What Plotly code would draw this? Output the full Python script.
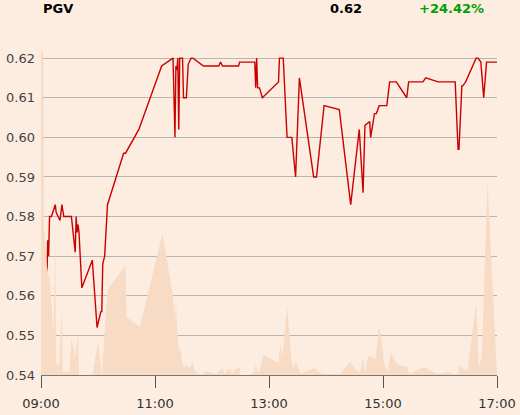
import plotly.graph_objects as go
import pandas as pd

day = "2024-01-02 "

price_times = ["09:00", "09:02", "09:03", "09:04", "09:06", "09:07", "09:08", "09:09", "09:11", "09:15",
               "09:16", "09:20", "09:22", "09:24", "09:32", "09:36", "09:37", "09:38", "09:39", "09:40",
               "09:43", "09:54", "09:59", "10:03", "10:04", "10:05", "10:07", "10:10", "10:27", "10:29",
               "10:43", "11:07", "11:19", "11:21", "11:22", "11:23", "11:24", "11:25", "11:26", "11:29",
               "11:30", "11:33", "11:35", "11:38", "11:40", "11:51", "12:07", "12:09", "12:11", "12:28",
               "12:29", "12:45", "12:46", "12:47", "12:48", "12:50", "12:53", "13:10", "13:11", "13:15",
               "13:19", "13:24", "13:28", "13:32", "13:47", "13:50", "13:58", "14:14", "14:26", "14:35",
               "14:39", "14:41", "14:46", "14:47", "14:51", "14:53", "14:56", "15:04", "15:07", "15:14",
               "15:25", "15:27", "15:42", "15:45", "15:58", "16:16", "16:19", "16:20", "16:23", "16:24",
               "16:27", "16:38", "16:40", "16:43", "16:46", "16:49", "17:00"]
price_values = [0.542, 0.570, 0.570, 0.560, 0.560, 0.574, 0.570, 0.580, 0.580, 0.583,
                0.581, 0.579, 0.583, 0.580, 0.580, 0.571, 0.580, 0.576, 0.578, 0.576,
                0.562, 0.569, 0.552, 0.556, 0.556, 0.568, 0.570, 0.583, 0.596, 0.596,
                0.602, 0.618, 0.620, 0.600, 0.618, 0.617, 0.620, 0.602, 0.620, 0.620,
                0.610, 0.610, 0.6185, 0.620, 0.620, 0.618, 0.618, 0.619, 0.618, 0.618,
                0.619, 0.619, 0.6125, 0.620, 0.6125, 0.6125, 0.610, 0.614, 0.620, 0.620,
                0.600, 0.600, 0.590, 0.615, 0.590, 0.590, 0.608, 0.607, 0.583, 0.602,
                0.586, 0.603, 0.604, 0.600, 0.606, 0.606, 0.608, 0.608, 0.614, 0.614,
                0.610, 0.614, 0.614, 0.615, 0.614, 0.614, 0.597, 0.597, 0.613, 0.613,
                0.614, 0.620, 0.620, 0.619, 0.610, 0.619, 0.619]

volume_times = ["09:00", "09:02", "09:03", "09:06", "09:10", "09:13", "09:15", "09:16", "09:19", "09:22",
                "09:23", "09:30", "09:32", "09:36", "09:39", "09:40", "09:54", "10:00", "10:04", "10:07",
                "10:10", "10:29", "10:30", "10:44", "11:08", "11:19", "11:21", "11:22", "11:24", "11:26",
                "11:27", "11:29", "11:32", "11:34", "11:36", "11:38", "11:40", "11:42", "11:46", "11:51",
                "11:52", "12:05", "12:11", "12:13", "12:16", "12:20", "12:21", "12:23", "12:29", "12:30",
                "12:40", "12:44", "12:46", "12:48", "12:50", "12:54", "13:10", "13:12", "13:14", "13:19",
                "13:24", "13:26", "13:28", "13:33", "13:48", "13:54", "14:01", "14:15", "14:25", "14:32",
                "14:36", "14:39", "14:41", "14:44", "14:46", "14:52", "14:56", "14:59", "15:01", "15:05",
                "15:08", "15:15", "15:25", "15:28", "15:43", "15:57", "16:09", "16:14", "16:19", "16:21",
                "16:23", "16:26", "16:29", "16:38", "16:41", "16:44", "16:50", "17:00"]
volume_values = [4000000, 4000000, 1500000, 1100000, 900000, 400000, 1310000, 120000, 80000, 660000,
                 30000, 30000, 370000, 180000, 420000, 0, 0, 330000, 0, 400000,
                 850000, 1100000, 580000, 480000, 1420000, 780000, 530000, 740000, 370000, 230000,
                 250000, 100000, 80000, 100000, 60000, 100000, 120000, 40000, 10000, 10000,
                 40000, 10000, 70000, 10000, 50000, 60000, 10000, 50000, 80000, 0,
                 0, 30000, 100000, 30000, 40000, 200000, 120000, 310000, 180000, 690000,
                 120000, 70000, 140000, 10000, 70000, 20000, 10000, 10000, 130000, 50000,
                 20000, 180000, 20000, 170000, 190000, 160000, 490000, 320000, 120000, 30000,
                 220000, 110000, 80000, 10000, 80000, 10000, 30000, 10000, 10000, 110000,
                 80000, 50000, 50000, 730000, 80000, 180000, 1950000, 0]

ticker = "PGV"
last_price = "0.62"
change_text = "+24.42%"

px_t = pd.to_datetime([day + t for t in price_times])
vol_t = pd.to_datetime([day + t for t in volume_times])

fig = go.Figure()
fig.add_trace(go.Scatter(x=vol_t, y=volume_values, yaxis="y2", mode="lines",
                         line=dict(width=0), fill="tozeroy", fillcolor="#f8dbc5",
                         hoverinfo="skip", showlegend=False))
fig.add_trace(go.Scatter(x=px_t, y=price_values, mode="lines",
                         line=dict(color="#cc0000", width=1.4), showlegend=False))

bg = "#fcede0"
fig.update_layout(
    width=520, height=415,
    margin=dict(l=41, r=23, t=51, b=40),
    paper_bgcolor=bg, plot_bgcolor=bg,
    font=dict(family="DejaVu Sans", size=13, color="#444444"),
    xaxis=dict(range=[pd.Timestamp(day + "09:00"), pd.Timestamp(day + "17:00")],
               tickformat="%H:%M", dtick=2 * 3600 * 1000, tick0=pd.Timestamp(day + "09:00"),
               showgrid=False, zeroline=False, showline=True, linecolor="#777777", linewidth=1,
               ticks="outside", ticklen=12, tickcolor="#555555", tickwidth=1, automargin=False,
               ticklabelstandoff=4, tickfont=dict(size=13, color="#333333")),
    yaxis=dict(range=[0.54, 0.6218], tickvals=[0.54, 0.55, 0.56, 0.57, 0.58, 0.59, 0.60, 0.61, 0.62],
               tickformat=".2f", showgrid=True, gridcolor="#b5b5b5", gridwidth=1, automargin=False,
               zeroline=False, showline=False, ticks="", ticklabelstandoff=5,
               tickfont=dict(size=13, color="#444444")),
    yaxis2=dict(range=[0, 3240000], overlaying="y", side="right", visible=False, automargin=False),
    annotations=[
        dict(text="<b>" + ticker + "</b>", xref="paper", yref="paper", x=0.0, y=1.131,
             xanchor="left", yanchor="middle", showarrow=False,
             font=dict(family="DejaVu Sans", size=13, color="#000000")),
        dict(text="<b>" + last_price + "</b>", xref="paper", yref="paper", x=0.7094, y=1.131,
             xanchor="right", yanchor="middle", showarrow=False,
             font=dict(family="DejaVu Sans", size=13, color="#000000")),
        dict(text="<b>" + change_text + "</b>", xref="paper", yref="paper", x=0.976, y=1.131,
             xanchor="right", yanchor="middle", showarrow=False,
             font=dict(family="DejaVu Sans", size=13, color="#00a000")),
    ],
)

fig.write_html("out.html", config={"displayModeBar": False},
               post_script="document.body.style.margin='0';document.body.style.background='%s';" % bg)
